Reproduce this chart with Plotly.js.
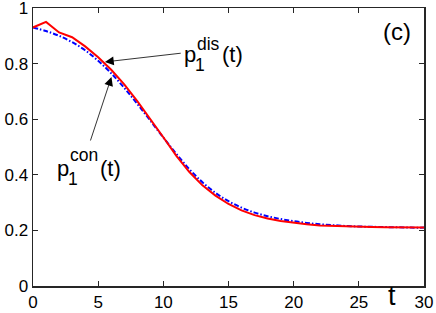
<!DOCTYPE html>
<html><head><meta charset="utf-8">
<script src="https://cdn.plot.ly/plotly-3.0.1.min.js"></script>
<style>html,body{margin:0;padding:0;background:#fff}#chart{width:436px;height:313px}</style>
</head><body><div id="chart"></div>
<script>
const t = [0,1,2,3,4,5,6,7,8,9,10,11,12,13,14,15,16,17,18,19,20,21,22,23,24,25,26,27,28,29,30];
const pDis = [0.93,0.95,0.912,0.895,0.862,0.823,0.778,0.725,0.665,0.602,0.535,0.468,0.41,0.362,0.325,0.295,0.272,0.255,0.243,0.234,0.227,0.222,0.218,0.216,0.214,0.213,0.212,0.211,0.21,0.21,0.21];
const pCon = [0.93,0.917,0.9,0.877,0.848,0.81,0.765,0.713,0.655,0.595,0.534,0.475,0.42,0.373,0.335,0.305,0.282,0.264,0.251,0.241,0.233,0.227,0.222,0.219,0.216,0.214,0.213,0.212,0.211,0.21,0.21];
const xTicks = [0,5,10,15,20,25,30];
const yTicks = [0,0.2,0.4,0.6,0.8,1];
const yTickText = ['0','0.2','0.4','0.6','0.8','1'];

const FONT = 'Liberation Sans, Arial, sans-serif';
const AX = '#262626';

const traces = [
  {x: t, y: pCon, mode: 'lines', line: {color: '#0000ff', width: 2, dash: '5px,2px,1.5px,2px', shape: 'spline'}, hoverinfo: 'skip'},
  {x: t, y: pDis, mode: 'lines', line: {color: '#ff0000', width: 2}, hoverinfo: 'skip'}
];

function txt(x, y, s, size, anchor) {
  return {x: x, y: y, xref: 'x', yref: 'y', xanchor: anchor || 'left', yanchor: 'middle', text: s, showarrow: false,
          font: {family: FONT, size: size, color: '#000'}};
}

const ann = [
  // arrows
  {x: 5.52, y: 0.806, ax: 11.45, ay: 0.838, xref: 'x', yref: 'y', axref: 'x', ayref: 'y', text: '', showarrow: true, arrowhead: 2, arrowsize: 2.2, arrowwidth: 0.8, arrowcolor: '#000'},
  {x: 6.02, y: 0.752, ax: 4.37, ay: 0.518, xref: 'x', yref: 'y', axref: 'x', ayref: 'y', text: '', showarrow: true, arrowhead: 2, arrowsize: 2.2, arrowwidth: 0.8, arrowcolor: '#000'},
  // dis label: p, superscript dis, subscript 1, (t)
  txt(11.43, 0.8313, 'p', 22),
  txt(12.43, 0.8691, 'dis', 17.5),
  txt(12.31, 0.7953, '1', 17.5),
  txt(14.35, 0.8313, '(t)', 22),
  // con label
  txt(1.66, 0.4230, 'p', 22),
  txt(2.65, 0.4698, 'con', 17.5),
  txt(2.53, 0.3853, '1', 17.5),
  txt(4.99, 0.4230, '(t)', 22),
  // panel label
  {x: 27.9, y: 0.9137, xref: 'x', yref: 'y', xanchor: 'center', yanchor: 'middle', text: '(c)', showarrow: false, font: {family: FONT, size: 24, color: '#000'}},
  // axis title t
  {x: 27.55, y: -0.036, xref: 'x', yref: 'paper', xanchor: 'center', yanchor: 'middle', text: 't', showarrow: false, font: {family: FONT, size: 27, color: '#000'}}
];

const layout = {
  width: 436, height: 313,
  margin: {l: 33, r: 12, t: 8, b: 27, pad: 0},
  paper_bgcolor: '#fff', plot_bgcolor: '#fff',
  showlegend: false,
  font: {family: FONT, size: 17, color: '#000'},
  xaxis: {range: [0, 30], tickvals: xTicks, ticktext: xTicks.map(String), ticks: 'inside', ticklen: 5, tickwidth: 1.2, tickcolor: AX,
          showline: true, linecolor: AX, linewidth: 1.5, mirror: 'ticks', showgrid: false, zeroline: false, ticklabeloverflow: 'allow',
          tickfont: {family: FONT, size: 17, color: '#000'}, fixedrange: true},
  yaxis: {range: [0, 1], tickvals: yTicks, ticktext: yTickText, ticks: 'inside', ticklen: 5, tickwidth: 1.2, tickcolor: AX,
          showline: true, linecolor: AX, linewidth: 1.5, mirror: 'ticks', showgrid: false, zeroline: false, ticklabeloverflow: 'allow',
          tickfont: {family: FONT, size: 17, color: '#000'}, fixedrange: true},
  annotations: ann
};

Plotly.newPlot('chart', traces, layout, {staticPlot: true, displayModeBar: false});
</script></body></html>
